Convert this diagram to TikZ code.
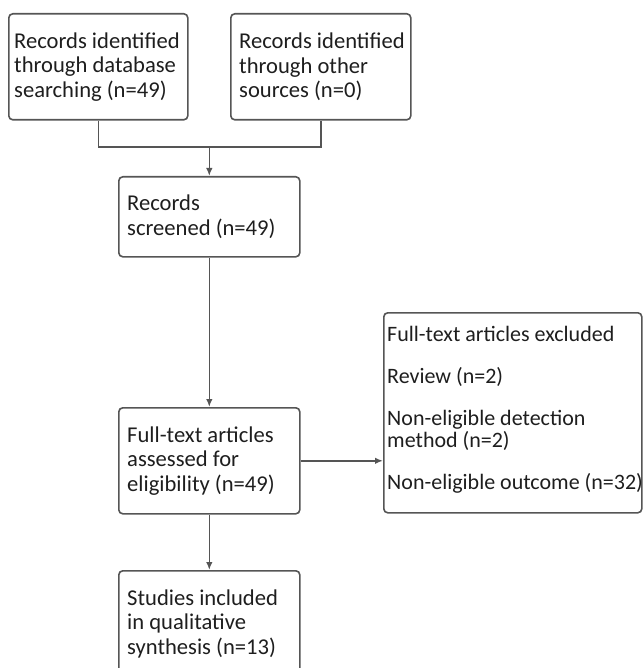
\documentclass[tikz,border=0pt]{standalone}
\usepackage{fontspec}
\setmainfont{Carlito}
\usetikzlibrary{arrows.meta}
\definecolor{linec}{HTML}{555555}
\definecolor{textc}{HTML}{1E1E1E}
\tikzset{
  flowbox/.style={draw=linec, line width=1.6pt, rounded corners=4pt, anchor=north west, inner sep=0pt},
  boxtext/.style={anchor=west, align=left, inner sep=0pt, text=textc, font=\fontsize{22.6}{24.5}\selectfont},
  conn/.style={draw=linec, line width=1.6pt},
  arr/.style={conn, -{Latex[length=8pt,width=6.5pt]}}
}
\begin{document}
\begin{tikzpicture}[x=1pt,y=-1pt]
\useasboundingbox (0,0) rectangle (642,668);
\node[flowbox, minimum width=179pt, minimum height=106pt] (b1) at (8,13) {};
\node[boxtext, xshift=6pt] (t1) at (b1.west) {Records identified\\through database\\searching (n=49)};
\node[flowbox, minimum width=180pt, minimum height=106pt] (b2) at (230,13) {};
\node[boxtext, xshift=9pt] (t2) at (b2.west) {Records identified\\through other\\sources (n=0)};
\node[flowbox, minimum width=181pt, minimum height=80pt] (b3) at (118,176) {};
\node[boxtext, xshift=9pt] (t3) at (b3.west) {Records\\screened (n=49)};
\node[flowbox, minimum width=181pt, minimum height=106pt] (b4) at (118,407) {};
\node[boxtext, xshift=9pt] (t4) at (b4.west) {Full-text articles\\assessed for\\eligibility (n=49)};
\node[flowbox, minimum width=258pt, minimum height=200pt] (b5) at (383,312) {};
\node[boxtext, xshift=4pt, yshift=3pt, font=\fontsize{22}{22}\selectfont] (t5) at (b5.west)
  {Full-text articles excluded\\[20pt]Review (n=2)\\[20pt]Non-eligible detection\\method (n=2)\\[20pt]Non-eligible outcome (n=32)};
\node[flowbox, minimum width=181pt, minimum height=106pt] (b6) at (118,570) {};
\node[boxtext, xshift=9pt] (t6) at (b6.west) {Studies included\\in qualitative\\synthesis (n=13)};
\coordinate (j) at (b3.north |- 0,147);
\draw[conn] (b1.south) |- (j) -| (b2.south);
\draw[arr] (j) -- (b3.north);
\draw[arr] (b3.south) -- (b4.north);
\draw[arr] (b4.east) -- (b5.west |- b4.east);
\draw[arr] (b4.south) -- (b6.north);
\end{tikzpicture}
\end{document}
